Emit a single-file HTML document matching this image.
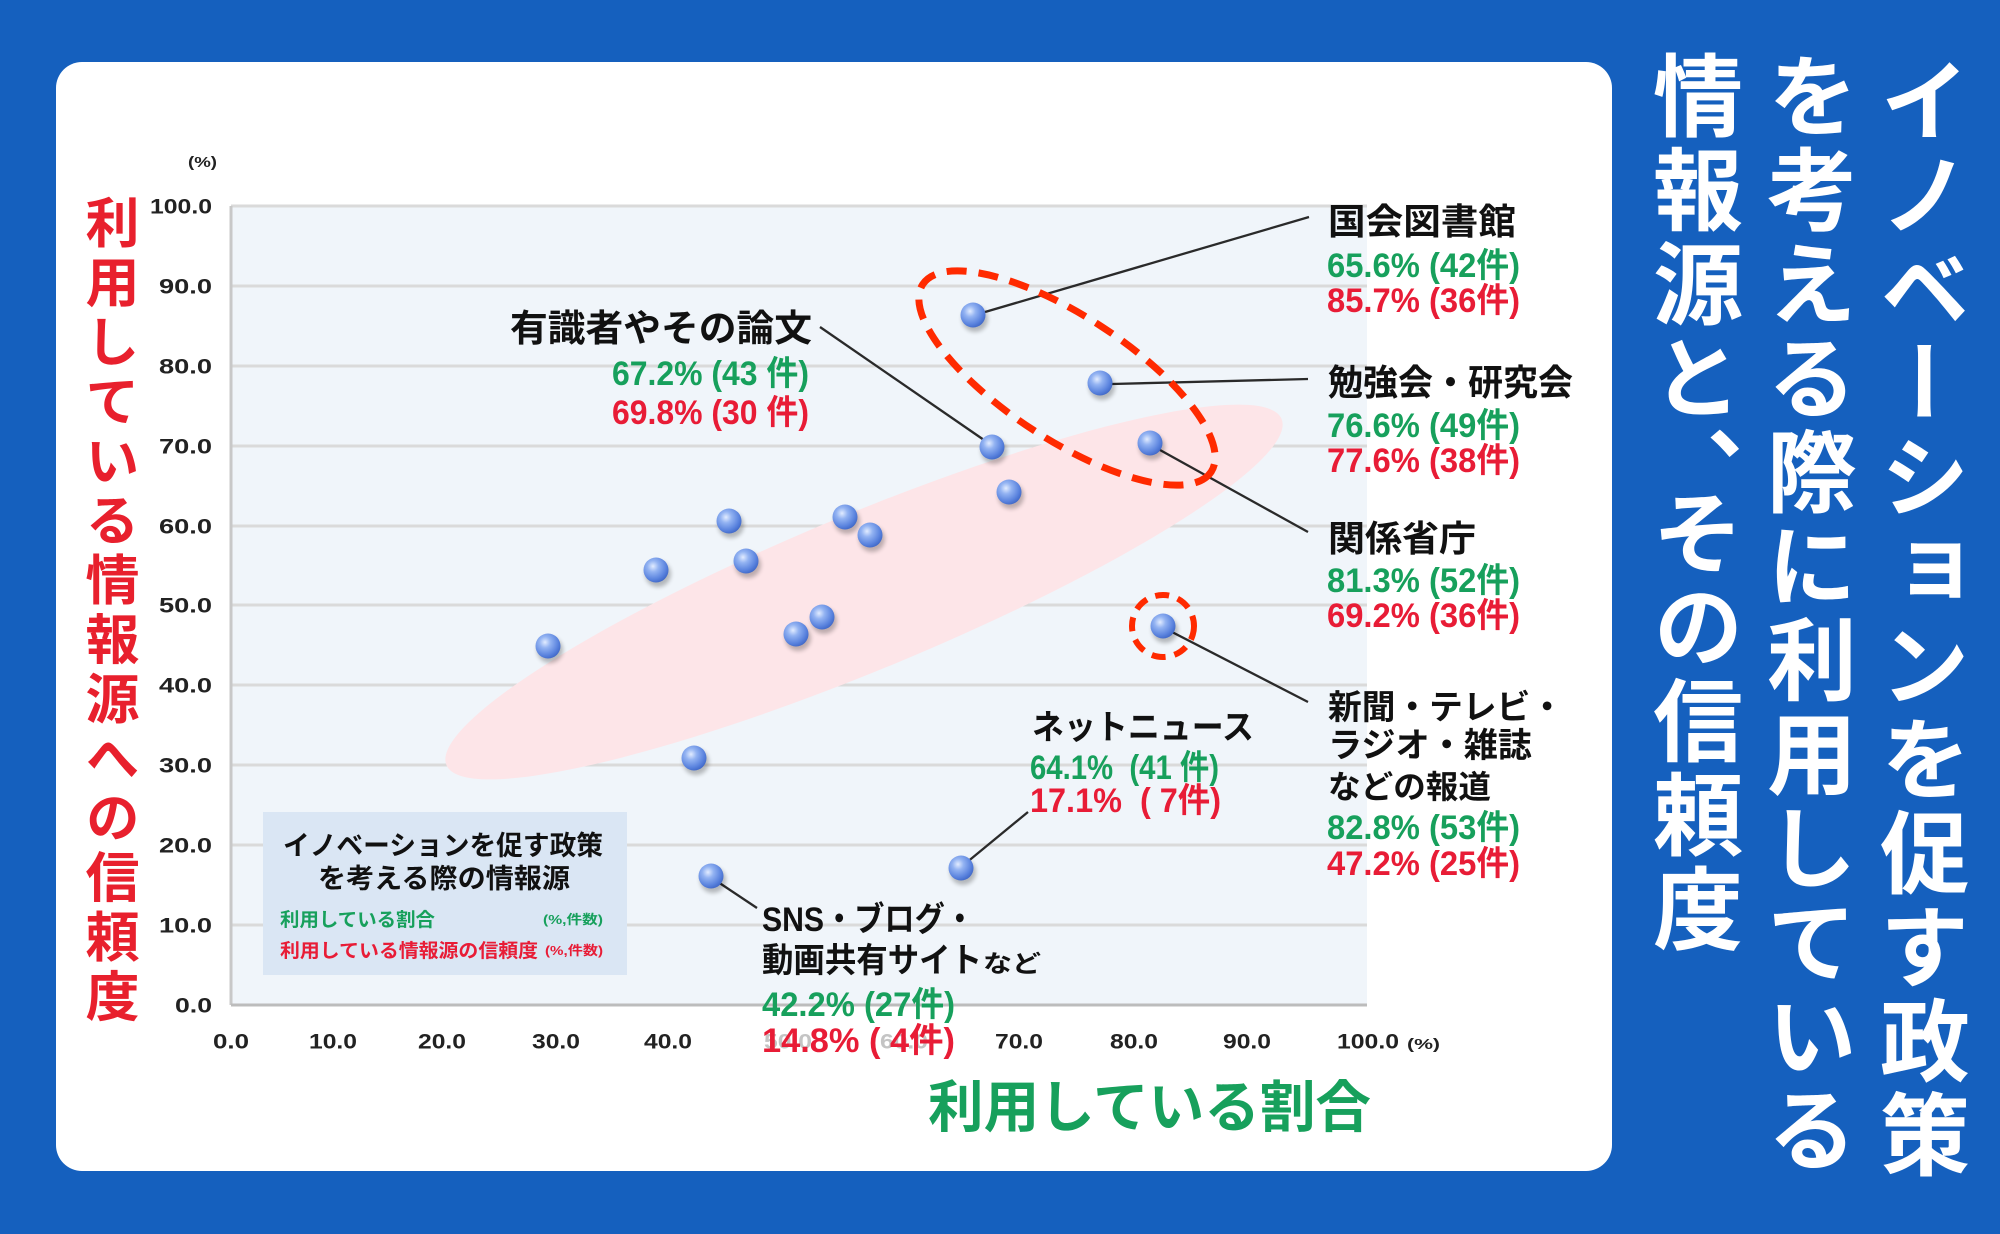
<!DOCTYPE html>
<html><head><meta charset="utf-8">
<style>
html,body{margin:0;padding:0;}
body{width:2000px;height:1234px;background:#1560be;overflow:hidden;position:relative;}
svg{position:absolute;left:0;top:0;}
.vt{position:absolute;writing-mode:vertical-rl;font-family:"Noto Sans CJK JP",sans-serif;font-weight:700;line-height:1;white-space:nowrap;margin:0;padding:0;}
.t{font-family:"Liberation Sans","Noto Sans CJK JP",sans-serif;font-weight:700;}
</style></head><body>
<svg width="2000" height="1234" viewBox="0 0 2000 1234" xmlns="http://www.w3.org/2000/svg">
<defs>
<radialGradient id="ball" cx="0.38" cy="0.35" r="0.7">
<stop offset="0" stop-color="#e2ecff"/>
<stop offset="0.32" stop-color="#93b3f2"/>
<stop offset="0.75" stop-color="#5a83de"/>
<stop offset="1" stop-color="#3e66c6"/>
</radialGradient>
<filter id="blur" x="-50%" y="-50%" width="200%" height="200%"><feGaussianBlur stdDeviation="2.2"/></filter>
</defs>
<rect x="56" y="62" width="1556" height="1109" rx="26" fill="#ffffff"/>
<rect x="231" y="206" width="1136" height="799" fill="#f0f5fa"/>
<g stroke="#dadada" stroke-width="3">
<line x1="231" y1="206" x2="1367" y2="206"/>
<line x1="231" y1="286" x2="1367" y2="286"/>
<line x1="231" y1="366" x2="1367" y2="366"/>
<line x1="231" y1="446" x2="1367" y2="446"/>
<line x1="231" y1="526" x2="1367" y2="526"/>
<line x1="231" y1="605" x2="1367" y2="605"/>
<line x1="231" y1="685" x2="1367" y2="685"/>
<line x1="231" y1="765" x2="1367" y2="765"/>
<line x1="231" y1="845" x2="1367" y2="845"/>
<line x1="231" y1="925" x2="1367" y2="925"/>
</g>
<ellipse cx="864" cy="592" rx="452" ry="78" transform="rotate(-22.5 864 592)" fill="#fde5e8"/>
<line x1="231" y1="206" x2="231" y2="1005" stroke="#c8c8c8" stroke-width="3"/>
<line x1="231" y1="1005" x2="1367" y2="1005" stroke="#bcbcbc" stroke-width="3"/>

<g class="t" fill="#222" font-size="21">
<text x="150" y="213.5" textLength="62" lengthAdjust="spacingAndGlyphs">100.0</text>
<text x="159" y="293.5" textLength="53" lengthAdjust="spacingAndGlyphs">90.0</text>
<text x="159" y="373.5" textLength="53" lengthAdjust="spacingAndGlyphs">80.0</text>
<text x="159" y="453.5" textLength="53" lengthAdjust="spacingAndGlyphs">70.0</text>
<text x="159" y="533.5" textLength="53" lengthAdjust="spacingAndGlyphs">60.0</text>
<text x="159" y="612.5" textLength="53" lengthAdjust="spacingAndGlyphs">50.0</text>
<text x="159" y="692.5" textLength="53" lengthAdjust="spacingAndGlyphs">40.0</text>
<text x="159" y="772.5" textLength="53" lengthAdjust="spacingAndGlyphs">30.0</text>
<text x="159" y="852.5" textLength="53" lengthAdjust="spacingAndGlyphs">20.0</text>
<text x="159" y="932.5" textLength="53" lengthAdjust="spacingAndGlyphs">10.0</text>
<text x="175" y="1012.5" textLength="37" lengthAdjust="spacingAndGlyphs">0.0</text>
<text x="213" y="1048.5" textLength="36" lengthAdjust="spacingAndGlyphs">0.0</text>
<text x="309" y="1048.5" textLength="48" lengthAdjust="spacingAndGlyphs">10.0</text>
<text x="418" y="1048.5" textLength="48" lengthAdjust="spacingAndGlyphs">20.0</text>
<text x="532" y="1048.5" textLength="48" lengthAdjust="spacingAndGlyphs">30.0</text>
<text x="644" y="1048.5" textLength="48" lengthAdjust="spacingAndGlyphs">40.0</text>
<text x="764" y="1048.5" textLength="48" lengthAdjust="spacingAndGlyphs" fill="#c4c4c4">50.0</text>
<text x="880" y="1048.5" textLength="48" lengthAdjust="spacingAndGlyphs" fill="#c4c4c4">60.0</text>
<text x="995" y="1048.5" textLength="48" lengthAdjust="spacingAndGlyphs">70.0</text>
<text x="1110" y="1048.5" textLength="48" lengthAdjust="spacingAndGlyphs">80.0</text>
<text x="1223" y="1048.5" textLength="48" lengthAdjust="spacingAndGlyphs">90.0</text>
<text x="1337" y="1048.5" textLength="62" lengthAdjust="spacingAndGlyphs">100.0</text>
<text x="1407" y="1049" font-size="15" textLength="33" lengthAdjust="spacingAndGlyphs">(%)</text>
<text x="188" y="167" font-size="15" textLength="29" lengthAdjust="spacingAndGlyphs">(%)</text>
</g>

<g stroke="#2a2a2a" stroke-width="2.3" fill="none">
<line x1="985" y1="312" x2="1309" y2="217"/>
<line x1="1112" y1="384" x2="1308" y2="379"/>
<line x1="1160" y1="450" x2="1308" y2="532"/>
<line x1="1172" y1="632" x2="1308" y2="702"/>
<line x1="820" y1="327" x2="984" y2="440"/>
<line x1="1028" y1="812" x2="966" y2="863"/>
<line x1="718" y1="882" x2="757" y2="908"/>
</g>

<g id="markers">
<g fill="#000" opacity="0.25" filter="url(#blur)">
<circle cx="975" cy="319" r="13"/><circle cx="1102" cy="387" r="13"/><circle cx="1152" cy="447" r="13"/>
<circle cx="994" cy="451" r="13"/><circle cx="1011" cy="496" r="13"/><circle cx="731" cy="525" r="13"/>
<circle cx="847" cy="521" r="13"/><circle cx="872" cy="539" r="13"/><circle cx="748" cy="565" r="13"/>
<circle cx="658" cy="574" r="13"/><circle cx="824" cy="621" r="13"/><circle cx="798" cy="638" r="13"/>
<circle cx="550" cy="650" r="13"/><circle cx="696" cy="762" r="13"/><circle cx="1165" cy="630" r="13"/>
<circle cx="963" cy="872" r="13"/><circle cx="713" cy="880" r="13"/>
</g>
<g fill="url(#ball)">
<circle cx="973" cy="315" r="12.5"/><circle cx="1100" cy="383" r="12.5"/><circle cx="1150" cy="443" r="12.5"/>
<circle cx="992" cy="447" r="12.5"/><circle cx="1009" cy="492" r="12.5"/><circle cx="729" cy="521" r="12.5"/>
<circle cx="845" cy="517" r="12.5"/><circle cx="870" cy="535" r="12.5"/><circle cx="746" cy="561" r="12.5"/>
<circle cx="656" cy="570" r="12.5"/><circle cx="822" cy="617" r="12.5"/><circle cx="796" cy="634" r="12.5"/>
<circle cx="548" cy="646" r="12.5"/><circle cx="694" cy="758" r="12.5"/><circle cx="1163" cy="626" r="12.5"/>
<circle cx="961" cy="868" r="12.5"/><circle cx="711" cy="876" r="12.5"/>
</g>
</g>

<ellipse cx="1067" cy="378" rx="172" ry="62" transform="rotate(33 1067 378)" fill="none" stroke="#ff2a00" stroke-width="7" stroke-dasharray="20 12"/>
<circle cx="1163" cy="626" r="31" fill="none" stroke="#ff2a00" stroke-width="6" stroke-dasharray="14 9"/>

<!-- name labels -->
<g class="t" fill="#111">
<text x="1328" y="234" font-size="36" textLength="188" lengthAdjust="spacingAndGlyphs">国会図書館</text>
<text x="1328" y="395" font-size="36" textLength="245" lengthAdjust="spacingAndGlyphs">勉強会・研究会</text>
<text x="1328" y="551" font-size="36" textLength="148" lengthAdjust="spacingAndGlyphs">関係省庁</text>
<text x="1328" y="719" font-size="34" textLength="236" lengthAdjust="spacingAndGlyphs">新聞・テレビ・</text>
<text x="1328" y="757" font-size="34" textLength="204" lengthAdjust="spacingAndGlyphs">ラジオ・雑誌</text>
<text x="1328" y="798" font-size="32" textLength="163" lengthAdjust="spacingAndGlyphs">などの報道</text>
<text x="510" y="341" font-size="37" textLength="302" lengthAdjust="spacingAndGlyphs">有識者やその論文</text>
<text x="1032" y="739" font-size="34" textLength="222" lengthAdjust="spacingAndGlyphs">ネットニュース</text>
<text x="762" y="931" font-size="34" textLength="213" lengthAdjust="spacingAndGlyphs">SNS・ブログ・</text>
<text x="762" y="972" font-size="34" textLength="220" lengthAdjust="spacingAndGlyphs">動画共有サイト</text>
<text x="983" y="972" font-size="24" textLength="58" lengthAdjust="spacingAndGlyphs">など</text>
</g>

<!-- values -->
<g class="t" font-size="34">
<text x="1327" y="277" fill="#17a05c" textLength="193" lengthAdjust="spacingAndGlyphs">65.6% (42件)</text>
<text x="1327" y="312" fill="#e81c36" textLength="193" lengthAdjust="spacingAndGlyphs">85.7% (36件)</text>
<text x="1327" y="437" fill="#17a05c" textLength="193" lengthAdjust="spacingAndGlyphs">76.6% (49件)</text>
<text x="1327" y="472" fill="#e81c36" textLength="193" lengthAdjust="spacingAndGlyphs">77.6% (38件)</text>
<text x="1327" y="592" fill="#17a05c" textLength="193" lengthAdjust="spacingAndGlyphs">81.3% (52件)</text>
<text x="1327" y="627" fill="#e81c36" textLength="193" lengthAdjust="spacingAndGlyphs">69.2% (36件)</text>
<text x="1327" y="839" fill="#17a05c" textLength="193" lengthAdjust="spacingAndGlyphs">82.8% (53件)</text>
<text x="1327" y="875" fill="#e81c36" textLength="193" lengthAdjust="spacingAndGlyphs">47.2% (25件)</text>
<text x="612" y="385" fill="#17a05c" textLength="197" lengthAdjust="spacingAndGlyphs">67.2% (43&#160;件)</text>
<text x="612" y="424" fill="#e81c36" textLength="197" lengthAdjust="spacingAndGlyphs">69.8% (30&#160;件)</text>
<text x="1030" y="779" fill="#17a05c" textLength="189" lengthAdjust="spacingAndGlyphs">64.1%&#160; (41&#160;件)</text>
<text x="1030" y="812" fill="#e81c36" textLength="191" lengthAdjust="spacingAndGlyphs">17.1%&#160; (&#160;7件)</text>
<text x="762" y="1016" fill="#17a05c" textLength="193" lengthAdjust="spacingAndGlyphs">42.2% (27件)</text>
<text x="762" y="1052" fill="#e81c36" textLength="193" lengthAdjust="spacingAndGlyphs">14.8% (&#160;4件)</text>
</g>

<!-- legend -->
<rect x="263" y="812" width="364" height="163" fill="#dae6f4"/>
<g class="t">
<text x="283" y="855" font-size="27" fill="#111" textLength="320" lengthAdjust="spacingAndGlyphs">イノベーションを促す政策</text>
<text x="318" y="888" font-size="27" fill="#111" textLength="252" lengthAdjust="spacingAndGlyphs">を考える際の情報源</text>
<text x="280" y="926" font-size="19" fill="#17a05c" textLength="155" lengthAdjust="spacingAndGlyphs">利用している割合</text>
<text x="543" y="924" font-size="13" fill="#17a05c" textLength="60" lengthAdjust="spacingAndGlyphs">(%,件数)</text>
<text x="280" y="957" font-size="19" fill="#e81c36" textLength="258" lengthAdjust="spacingAndGlyphs">利用している情報源の信頼度</text>
<text x="545" y="955" font-size="13" fill="#e81c36" textLength="58" lengthAdjust="spacingAndGlyphs">(%,件数)</text>
</g>

<text class="t" x="928" y="1127" font-size="56" fill="#17a05c" textLength="443" lengthAdjust="spacingAndGlyphs">利用している割合</text>
</svg>

<div class="vt" style="left:85px;top:195px;font-size:54px;letter-spacing:5.5px;color:#e8202d;">利用している情報源への信頼度</div>
<div class="vt" style="left:1880px;top:55px;font-size:90px;letter-spacing:4px;color:#ffffff;">イノベーションを促す政策</div>
<div class="vt" style="left:1767px;top:50px;font-size:90px;letter-spacing:4px;color:#ffffff;">を考える際に利用している</div>
<div class="vt" style="left:1653px;top:50px;font-size:90px;letter-spacing:4px;color:#ffffff;">情報源と<span style="letter-spacing:-29px;">、</span>その信頼度</div>
</body></html>
